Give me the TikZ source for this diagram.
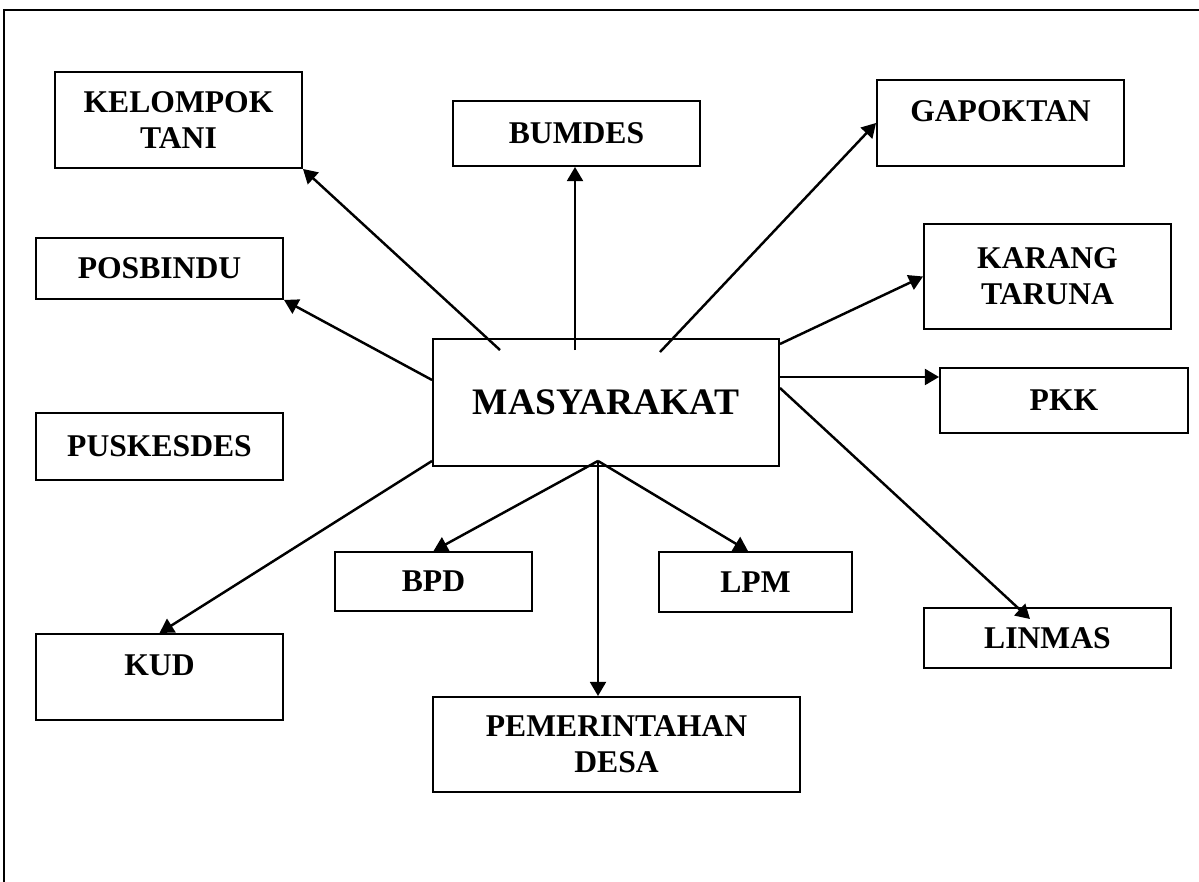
\documentclass[tikz,border=0pt]{standalone}
\usepackage{fontspec}
\setmainfont{Liberation Serif}
\usetikzlibrary{arrows.meta}

\begin{document}
\begin{tikzpicture}[>={Triangle[length=8pt,width=9pt]},line width=1.4pt,
 b/.style={draw,line width=1.1pt,minimum width=4.94cm,align=center,inner sep=2pt,
  font=\fontsize{18}{20.4}\selectfont\bfseries},
 bm/.style={b,minimum width=6.92cm,minimum height=2.54cm,font=\fontsize{21.3}{24}\selectfont\bfseries},
 hi/.style={text depth=13.6pt}]
\useasboundingbox (0,0) rectangle (23.98,17.64);
% frame
\draw[line width=1pt] (23.98,17.44) -- (0.08,17.44) -- (0.08,0);
% boxes
\node[bm] (masy) at (12.12,9.59) {MASYARAKAT};
\node[b,minimum height=1.92cm] (kt) at (3.57,15.24) {KELOMPOK\\TANI};
\node[b,minimum height=1.22cm] (posb) at (3.19,12.27) {POSBINDU};
\node[b,minimum height=1.34cm] (pusk) at (3.19,8.71) {PUSKESDES};
\node[b,hi,minimum height=1.72cm] (kud) at (3.19,4.10) {KUD};
\node[b,minimum height=1.30cm] (bum) at (11.53,14.97) {BUMDES};
\node[b,hi,minimum height=1.72cm] (gap) at (20.01,15.18) {GAPOKTAN};
\node[b,minimum height=2.10cm] (kar) at (20.95,12.11) {KARANG\\TARUNA};
\node[b,minimum width=4.96cm,minimum height=1.30cm] (pkk) at (21.28,9.63) {PKK};
\node[b,minimum height=1.20cm] (lin) at (20.95,4.88) {LINMAS};
\node[b,minimum width=3.94cm,minimum height=1.18cm] (bpd) at (8.67,6.01) {BPD};
\node[b,minimum width=3.86cm,minimum height=1.20cm] (lpm) at (15.11,6.00) {LPM};
\node[b,minimum width=7.34cm,minimum height=1.90cm] (pem) at (12.33,2.75) {PEMERINTAHAN\\DESA};
% starting points inside MASYARAKAT
\coordinate (m1) at ([shift={(-2.12,-0.24)}]masy.north);
\coordinate (m2) at ([shift={(-0.62,-0.24)}]masy.north);
\coordinate (m3) at ([shift={(1.08,-0.28)}]masy.north);
\coordinate (m4) at ([yshift=0.45cm]masy.west);
\coordinate (m5) at ([yshift=1.17cm]masy.east);
\coordinate (m6) at ([yshift=0.51cm]masy.east);
\coordinate (m7) at ([yshift=0.29cm]masy.east);
\coordinate (m8) at ([yshift=0.12cm]masy.south west);
\coordinate (ma) at ([shift={(-0.16,0.12)}]masy.south);
% arrows
\draw[->] (m1) -- (kt.south east);
\draw[->] (m2) -- (m2 |- bum.south);
\draw[->] (m3) -- (gap.west);
\draw[->] (m4) -- (posb.south east);
\draw[->] (m5) -- (kar.west);
\draw[->] (m6) -- (m6 -| pkk.west);
\draw[->] (m7) -- ([shift={(-0.35,-0.24)}]lin.north);
\draw[->] (m8) -- (kud.north);
\draw[->] (ma) -- (bpd.north);
\draw[->] (ma) -- ([xshift=-0.15cm]lpm.north);
\draw[->] (ma) -- (ma |- pem.north);
\end{tikzpicture}
\end{document}
